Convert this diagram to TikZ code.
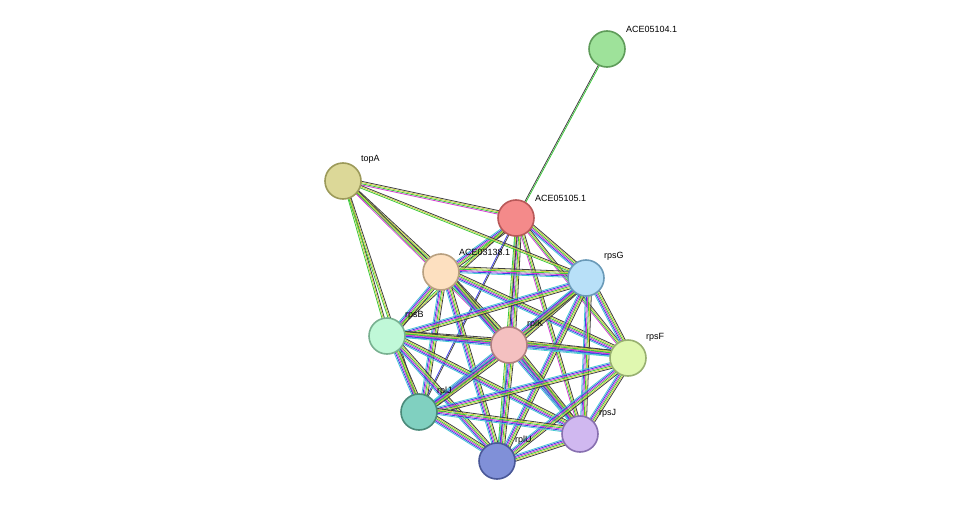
\documentclass[tikz,border=0pt]{standalone}
\usepackage{fontspec}
\setmainfont{Liberation Sans}
\usetikzlibrary{calc,backgrounds}
\definecolor{sgreen}{HTML}{3CC83C}
\definecolor{sblue}{HTML}{3C3CE6}
\definecolor{smag}{HTML}{D23CD2}
\definecolor{syel}{HTML}{C8D23C}
\definecolor{scyan}{HTML}{46C8D2}
\definecolor{sblack}{HTML}{404040}
\tikzset{
        prot/.style={circle, minimum size=36pt, line width=1.6pt, inner sep=0pt}, % protein bubble
        lbl/.style={font=\fontsize{9pt}{10pt}\selectfont, anchor=south west, inner sep=1pt},
    }
% a bundle of parallel coloured lines between two nodes
\newcommand\bundle[3]{%
  \foreach \c [count=\k] in {#3} {%
    \pgfmathsetmacro\o{(\k-1)*1.2}%
    \draw[\c, line width=0.8pt] ($(#1)!\o pt!90:(#2)$) -- ($(#2)!\o pt!-90:(#1)$);}}
\begin{document}
\begin{tikzpicture}[x=1pt, y=-1pt]
    \useasboundingbox (0,0) rectangle (975,506);
    \node[prot, fill={rgb,255:red,158;green,226;blue,154}, draw={rgb,255:red,95;green,156;blue,90}] (e104) at (607,49) {};
    \node[prot, fill={rgb,255:red,220;green,216;blue,152}, draw={rgb,255:red,156;green,154;blue,90}] (topA) at (343,181) {};
    \node[prot, fill={rgb,255:red,244;green,138;blue,138}, draw={rgb,255:red,184;green,88;blue,88}] (e105) at (516,218) {};
    \node[prot, fill={rgb,255:red,253;green,224;blue,192}, draw={rgb,255:red,184;green,160;blue,128}] (e138) at (441,272) {};
    \node[prot, fill={rgb,255:red,184;green,224;blue,248}, draw={rgb,255:red,106;green,154;blue,184}] (rpsG) at (586,278) {};
    \node[prot, fill={rgb,255:red,192;green,248;blue,216}, draw={rgb,255:red,120;green,176;blue,144}] (rpsB) at (387,336) {};
    \node[prot, fill={rgb,255:red,244;green,192;blue,192}, draw={rgb,255:red,176;green,128;blue,128}] (rplK) at (509,345) {};
    \node[prot, fill={rgb,255:red,224;green,248;blue,176}, draw={rgb,255:red,152;green,176;blue,112}] (rpsF) at (628,358) {};
    \node[prot, fill={rgb,255:red,128;green,208;blue,192}, draw={rgb,255:red,74;green,138;blue,122}] (rplJ) at (419,412) {};
    \node[prot, fill={rgb,255:red,208;green,184;blue,240}, draw={rgb,255:red,136;green,112;blue,176}] (rpsJ) at (580,434) {};
    \node[prot, fill={rgb,255:red,128;green,144;blue,216}, draw={rgb,255:red,74;green,88;blue,152}] (rplU) at (497,461) {};
    % labels
    \node[lbl] at (625,34) {ACE05104.1};
    \node[lbl] at (360,165) {topA};
    \node[lbl] at (534,203) {ACE05105.1};
    \node[lbl] at (458,257) {ACE03138.1};
    \node[lbl] at (603,262) {rpsG};
    \node[lbl] at (404,321) {rpsB};
    \node[lbl] at (526,330) {rplK};
    \node[lbl] at (645,343) {rpsF};
    \node[lbl] at (436,397) {rplJ};
    \node[lbl] at (598,419) {rpsJ};
    \node[lbl] at (514,446) {rplU};
    % edges
    \begin{scope}[on background layer]
      \bundle{e104}{e105}{sblack,sgreen}
      \foreach \a/\b in {e105/e138, e105/rpsG, e105/rplK} {\bundle{\a}{\b}{scyan,sblue,smag,sgreen,syel,sblack}}
      \foreach \a/\b in {e105/rpsF, e105/rpsJ, topA/e105, topA/e138, topA/rplK} {\bundle{\a}{\b}{smag,sgreen,syel,sblack}}
      \foreach \a/\b in {e105/rplU, e105/rpsB, topA/rpsG, topA/rpsB, topA/rplJ} {\bundle{\a}{\b}{sgreen,syel,sblack}}
      \bundle{e105}{rplJ}{sblue,sblack}
      \foreach \a/\b in {e138/rpsG, e138/rpsB, e138/rplK, e138/rpsF, e138/rplJ, e138/rpsJ, e138/rplU,
        rpsG/rpsB, rpsG/rplK, rpsG/rpsF, rpsG/rplJ, rpsG/rpsJ, rpsG/rplU,
        rpsB/rplK, rpsB/rpsF, rpsB/rplJ, rpsB/rpsJ, rpsB/rplU,
        rplK/rpsF, rplK/rplJ, rplK/rpsJ, rplK/rplU,
        rpsF/rplJ, rpsF/rpsJ, rpsF/rplU, rplJ/rpsJ, rplJ/rplU, rpsJ/rplU}
        {\bundle{\a}{\b}{scyan,sblue,smag,sgreen,syel,sblack}}
    \end{scope}
\end{tikzpicture}
\end{document}
